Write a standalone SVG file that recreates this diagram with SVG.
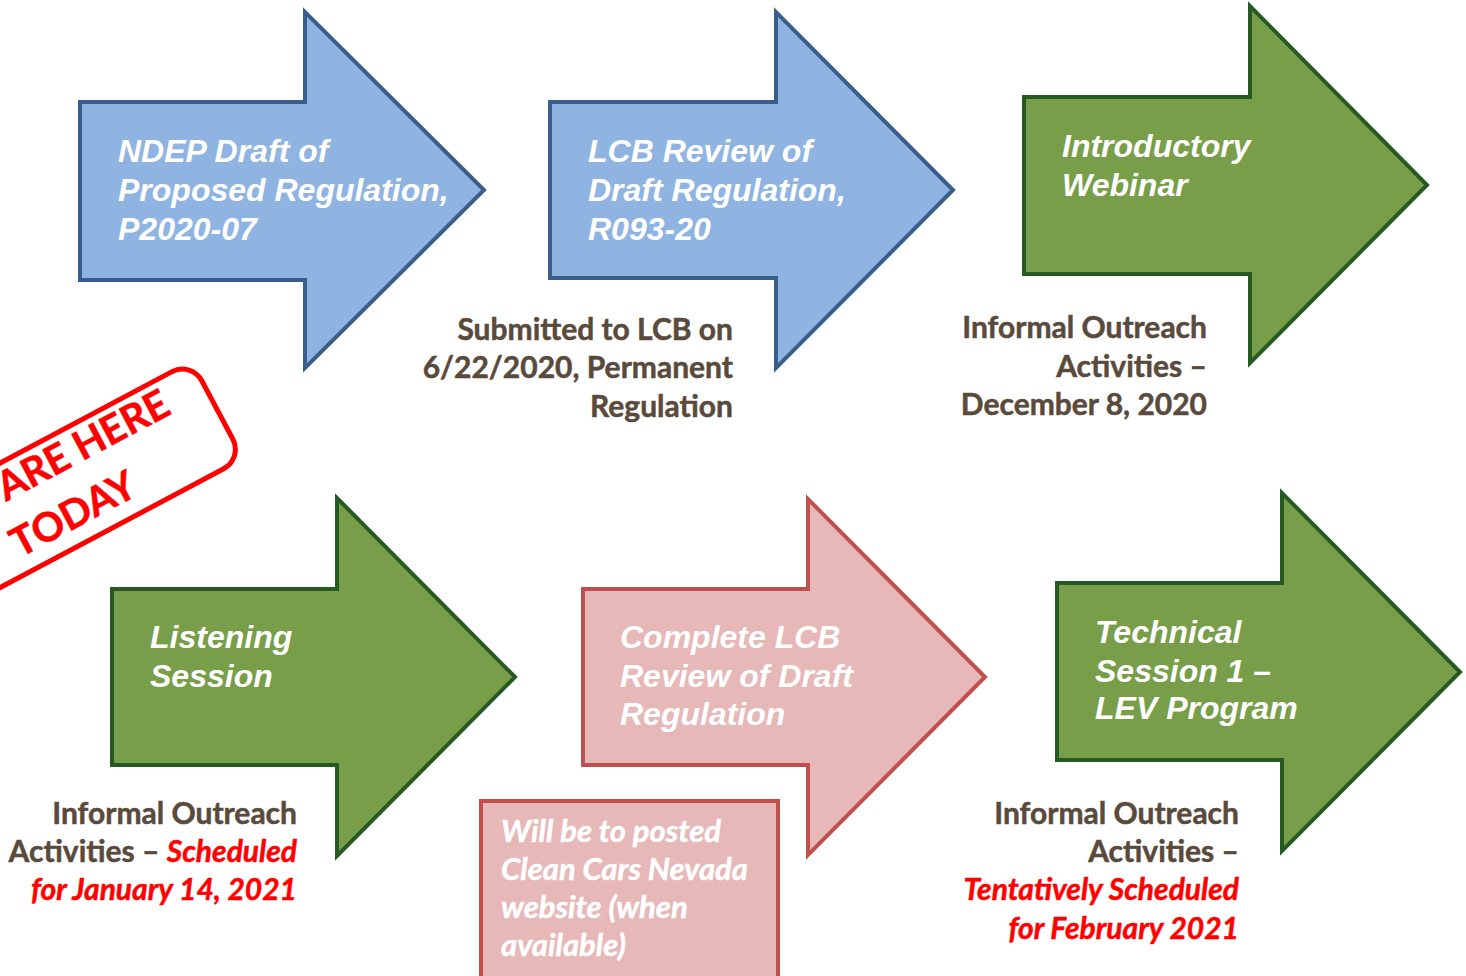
<svg xmlns="http://www.w3.org/2000/svg" width="1466" height="976" viewBox="0 0 1466 976">
<style>
.blue{fill:#8FB4E1;stroke:#3A5E8C;stroke-width:4;stroke-linejoin:miter}
.green{fill:#789E4A;stroke:#275A22;stroke-width:4;stroke-linejoin:miter}
.pink{fill:#E6B8B7;stroke:#C0504D;stroke-width:4;stroke-linejoin:miter}
.lbl{font-family:"Liberation Sans",Arial,sans-serif;font-weight:bold;font-style:italic;font-size:32px;fill:#FFFFFF}
.cap{font-family:Lato,"Open Sans",sans-serif;font-weight:bold;font-size:30px;fill:#594A3C;stroke:#594A3C;stroke-width:0.5;text-anchor:end}
.red{fill:#FF0000;stroke:#FF0000;font-style:italic}
.note{font-family:Lato,"Open Sans",sans-serif;font-weight:bold;font-style:italic;font-size:31px;fill:#FFFFFF;stroke:#FFFFFF;stroke-width:0.5}
.stamp{font-family:Lato,"Open Sans",sans-serif;font-weight:bold;font-size:40px;fill:#FF0000;stroke:#FF0000;stroke-width:0.6;text-anchor:middle}
</style>
<rect width="1466" height="976" fill="#FFFFFF"/>

<g id="stamp" transform="rotate(-28 76 485)">
<rect x="-84" y="430" width="320" height="110" rx="22" fill="none" stroke="#FF0000" stroke-width="5"/>
<text class="stamp" x="64" y="467">WE ARE HERE</text>
<text class="stamp" x="60" y="523">TODAY</text>
</g>

<g id="connectors"></g>

<g id="n1">
<path class="blue" d="M80 102 H305 V12 L484 190 L305 368 V280 H80 Z"/>
<text class="lbl"><tspan x="118" y="162">NDEP Draft of</tspan><tspan x="118" y="201">Proposed Regulation,</tspan><tspan x="118" y="240">P2020-07</tspan></text>
</g>

<g id="n2">
<path class="blue" d="M550 102 H776 V12 L953 190 L776 368 V278 H550 Z"/>
<text class="lbl"><tspan x="588" y="162">LCB Review of</tspan><tspan x="588" y="201">Draft Regulation,</tspan><tspan x="588" y="240">R093-20</tspan></text>
</g>
<g id="cap2">
<text class="cap"><tspan x="733" y="340">Submitted to LCB on</tspan><tspan x="733" y="378">6/22/2020, Permanent</tspan><tspan x="733" y="417">Regulation</tspan></text>
</g>

<g id="n3">
<path class="green" d="M1024 97 H1250 V6 L1427 185 L1250 363 V274 H1024 Z"/>
<text class="lbl"><tspan x="1062" y="157">Introductory</tspan><tspan x="1062" y="196">Webinar</tspan></text>
</g>
<g id="cap3">
<text class="cap"><tspan x="1207" y="338">Informal Outreach</tspan><tspan x="1207" y="377">Activities –</tspan><tspan x="1207" y="415">December 8, 2020</tspan></text>
</g>

<g id="n4">
<path class="green" d="M112 589 H337 V498 L515 677 L337 856 V765 H112 Z"/>
<text class="lbl"><tspan x="150" y="648">Listening</tspan><tspan x="150" y="687">Session</tspan></text>
</g>
<g id="cap4">
<text class="cap"><tspan x="297" y="824">Informal Outreach</tspan><tspan x="297" y="862">Activities – <tspan class="red">Scheduled</tspan></tspan><tspan class="red" x="297" y="900">for January 14, 2021</tspan></text>
</g>

<g id="n5">
<path class="pink" d="M583 589 H808 V499 L985 677 L808 855 V765 H583 Z"/>
<text class="lbl"><tspan x="620" y="648">Complete LCB</tspan><tspan x="620" y="687">Review of Draft</tspan><tspan x="620" y="725">Regulation</tspan></text>
</g>
<g id="note5">
<rect x="481" y="801" width="297" height="185" fill="#E6B8B7" stroke="#C0504D" stroke-width="4"/>
<text class="note"><tspan x="501" y="842">Will be to posted</tspan><tspan x="501" y="880">Clean Cars Nevada</tspan><tspan x="501" y="918">website (when</tspan><tspan x="501" y="956">available)</tspan></text>
</g>

<g id="n6">
<path class="green" d="M1057 583 H1282 V493 L1460 672 L1282 851 V760 H1057 Z"/>
<text class="lbl"><tspan x="1095" y="643">Technical</tspan><tspan x="1095" y="682">Session 1 –</tspan><tspan x="1095" y="719">LEV Program</tspan></text>
</g>
<g id="cap6">
<text class="cap"><tspan x="1239" y="824">Informal Outreach</tspan><tspan x="1239" y="862">Activities –</tspan><tspan class="red" x="1239" y="900">Tentatively Scheduled</tspan><tspan class="red" x="1239" y="939">for February 2021</tspan></text>
</g>
</svg>
